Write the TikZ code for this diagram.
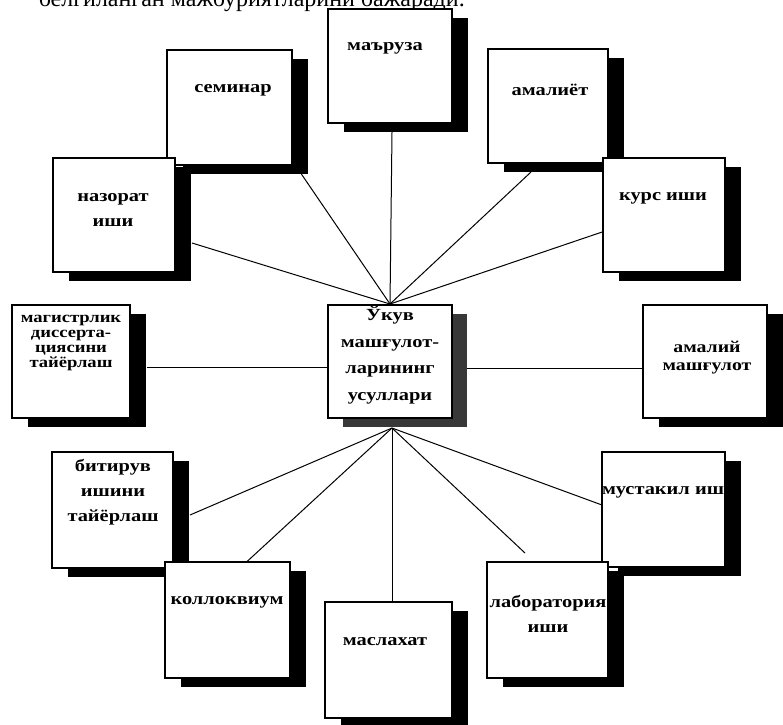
\documentclass[tikz,border=0pt]{standalone}
\usepackage{fontspec}
\setmainfont{Liberation Serif}
\newfontfamily\lab[FakeStretch=1.2]{Liberation Serif}
\usetikzlibrary{shadows}
\tikzset{
  box/.style={draw=black, line width=1.2pt, fill=white, inner sep=0pt, outer sep=0pt,
    drop shadow={shadow xshift=16pt, shadow yshift=-9pt, opacity=1, fill=black}},
  cbox/.style={draw=black, line width=1.2pt, fill=white, inner sep=0pt, outer sep=0pt,
    drop shadow={shadow xshift=15pt, shadow yshift=-9pt, opacity=1, fill=black!78}},
  lbl/.style={align=center, inner sep=0pt, font={\lab\bfseries\fontsize{17}{25}\selectfont}},
  conn/.style={draw=black, line width=1pt}
}
\begin{document}
\begin{tikzpicture}[x=1pt, y=-1pt]
\useasboundingbox (0,0) rectangle (783,724);
% header (cut off at the top, as in the scan)
\node[anchor=base east, inner sep=0pt, font={\fontsize{24}{24}\selectfont}] (hdr) at (465,6) {белгиланган мажбуриятларини бажаради.};

% hub coordinates and connector ends
\coordinate (hubT) at (390,304);
\coordinate (hubB) at (392,428);
\coordinate (eMar) at (392,132);
\coordinate (eSem) at (300,172);
\coordinate (eAml) at (531,172);
\coordinate (eNaz) at (192,243);
\coordinate (eKur) at (608,230);
\coordinate (eMag) at (147,367);
\coordinate (cL) at (328,367);
\coordinate (cR) at (467,368);
\coordinate (eAmm) at (643,368);
\coordinate (eBit) at (190,515);
\coordinate (eMus) at (602,505);
\coordinate (eKol) at (240,568);
\coordinate (eLab) at (525,553);
\coordinate (eMas) at (392,602);

% connectors
\draw[conn] (hubT) -- (eMar);
\draw[conn] (hubT) -- (eSem);
\draw[conn] (hubT) -- (eAml);
\draw[conn] (hubT) -- (eNaz);
\draw[conn] (hubT) -- (eKur);
\draw[conn] (eMag) -- (cL);
\draw[conn] (cR) -- (eAmm);
\draw[conn] (hubB) -- (eBit);
\draw[conn] (hubB) -- (eMus);
\draw[conn] (hubB) -- (eKol);
\draw[conn] (hubB) -- (eLab);
\draw[conn] (hubB) -- (eMas);

% boxes
\node[box, minimum width=124pt, minimum height=114pt] (mar) at (390,66) {};
\node[box, minimum width=125pt, minimum height=115pt] (sem) at (229.5,107.5) {};
\node[box, minimum width=120pt, minimum height=114pt] (aml) at (548,106) {};
\node[box, minimum width=122pt, minimum height=114pt] (naz) at (114,215) {};
\node[box, minimum width=122pt, minimum height=114pt] (kur) at (664,215) {};
\node[box, minimum width=118pt, minimum height=113pt] (mag) at (71,361.5) {};
\node[cbox, minimum width=124pt, minimum height=113pt] (cen) at (390,361.5) {};
\node[box, minimum width=124pt, minimum height=113pt] (amm) at (705,361.5) {};
\node[box, minimum width=121pt, minimum height=116pt] (bit) at (112.5,510) {};
\node[box, minimum width=123pt, minimum height=115pt] (mus) at (663.5,509.5) {};
\node[box, minimum width=125pt, minimum height=116pt] (kol) at (227.5,620) {};
\node[box, minimum width=121pt, minimum height=116pt] (lab) at (547.5,620) {};
\node[box, minimum width=127pt, minimum height=116pt] (mas) at (388.5,660) {};

% labels
\node[lbl] (tMar) at (385,48) {маъруза};
\node[lbl] (tSem) at (233,90) {семинар};
\node[lbl] (tAml) at (550,90) {амалиёт};
\node[lbl] (tNaz) at (113,210) {назорат\\иши};
\node[lbl] (tKur) at (663,198) {курс иши};
\node[lbl, font={\lab\bfseries\fontsize{15.5}{15}\selectfont}] (tMag) at (71,343) {магистрлик\\диссерта-\\циясини\\тайёрлаш};
\node[lbl, font={\lab\bfseries\fontsize{17}{26.5}\selectfont}] (tCen) at (390,355) {Ўкув\\машғулот-\\ларининг\\усуллари};
\node[lbl, font={\lab\bfseries\fontsize{16.5}{18}\selectfont}] (tAmm) at (707,358) {амалий\\машғулот};
\node[lbl] (tBit) at (113,492) {битирув\\ишини\\тайёрлаш};
\node[lbl] (tMus) at (663,492) {мустакил иш};
\node[lbl] (tKol) at (227,602) {коллоквиум};
\node[lbl] (tMas) at (385,642) {маслахат};
\node[lbl] (tLab) at (548,614) {лаборатория\\иши};
\end{tikzpicture}
\end{document}
